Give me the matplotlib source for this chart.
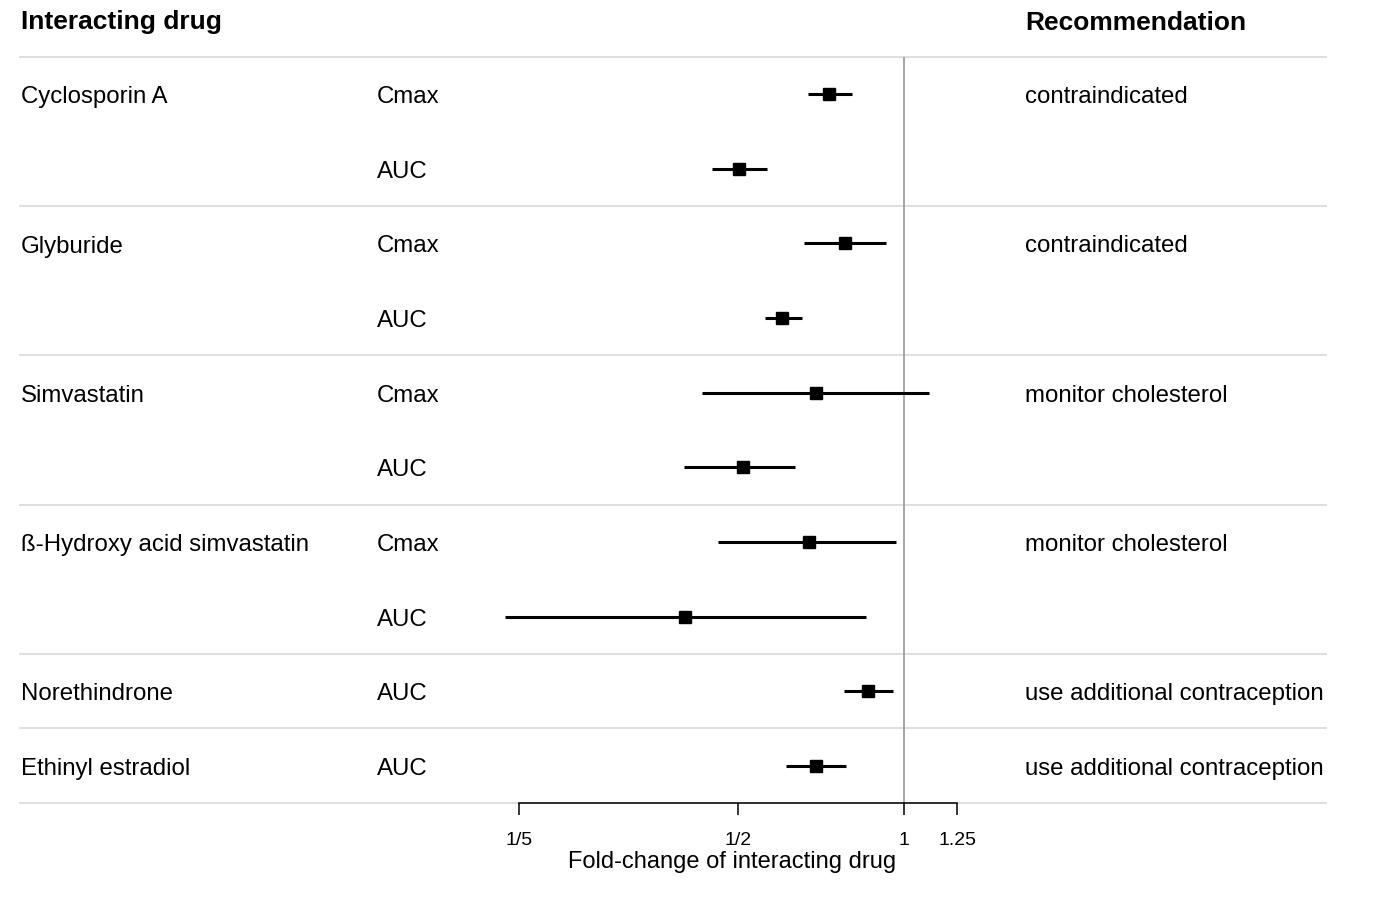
import numpy as np
import matplotlib
matplotlib.use("Agg")
from matplotlib import pyplot as plt
from matplotlib import transforms

plt.rcParams['font.family'] = ['Liberation Sans', 'DejaVu Sans']

# one entry per drug
drugs = ["Cyclosporin A", "Glyburide", "Simvastatin",
         "ß-Hydroxy acid simvastatin", "Norethindrone", "Ethinyl estradiol"]
advice = ["contraindicated", "contraindicated", "monitor cholesterol",
          "monitor cholesterol", "use additional contraception",
          "use additional contraception"]

# one entry per row (parameter)
row_drug = [0, 0, 1, 1, 2, 2, 3, 3, 4, 5]
params = ["Cmax", "AUC", "Cmax", "AUC", "Cmax", "AUC", "Cmax", "AUC", "AUC", "AUC"]
ratio = [0.731, 0.501, 0.781, 0.600, 0.691, 0.510, 0.671, 0.400, 0.861, 0.691]
ci_lo = [0.670, 0.449, 0.659, 0.559, 0.429, 0.399, 0.459, 0.189, 0.779, 0.610]
ci_hi = [0.805, 0.563, 0.926, 0.654, 1.109, 0.633, 0.966, 0.854, 0.956, 0.785]

ticks = [0.2, 0.5, 1, 1.25]
tick_labels = ["1/5", "1/2", "1", "1.25"]

W, H = 1386, 898
fig = plt.figure(figsize=(W / 100, H / 100), dpi=100)
ax = fig.add_axes([480 / W, (H - 803) / H, 510 / W, (803 - 57) / H])
ax.set_xscale('log')
ax.set_xlim(10 ** ((480 - 904) / 550.8), 10 ** ((990 - 904) / 550.8))
n = len(params)
ax.set_ylim(n - 0.5, -0.5)
row_px = (803 - 57) / n

y = np.arange(n)
lo = np.array(ratio) - np.array(ci_lo)
hi = np.array(ci_hi) - np.array(ratio)
ax.errorbar(ratio, y, xerr=[lo, hi], fmt='s', color='black', ms=9,
            elinewidth=2.2, capsize=0, clip_on=False, zorder=5)
ax.axvline(1, color='#a0a0a0', lw=1.3, zorder=1)

for s in ['top', 'right', 'left']:
    ax.spines[s].set_visible(False)
ax.spines['bottom'].set_bounds(0.2, 1.25)
ax.spines['bottom'].set_linewidth(1.1)
ax.spines['bottom'].set_zorder(3)
ax.set_yticks([])
ax.set_xticks(ticks)
ax.set_xticklabels(tick_labels)
ax.xaxis.set_minor_locator(matplotlib.ticker.NullLocator())
ax.tick_params(axis='x', length=8.5, width=1.1, labelsize=14, pad=12.5)
fig.text(732 / W, 1 - 868 / H, "Fold-change of interacting drug", fontsize=17,
         ha='center', va='baseline')

tr = transforms.blended_transform_factory(fig.transFigure, ax.transData)

# separators between drugs
seps = [-0.5]
for i in range(1, n):
    if row_drug[i] != row_drug[i - 1]:
        seps.append(i - 0.5)
seps.append(n - 0.5)
for s in seps:
    ax.plot([20 / W, 1326 / W], [s, s], transform=tr, color='#d9d9d9',
            lw=1.2, clip_on=False, zorder=0)

fs = 17.3
base = 9 / row_px   # baseline sits a little below the row centre
for i in range(n):
    if i == 0 or row_drug[i] != row_drug[i - 1]:
        d = row_drug[i]
        ax.text(21 / W, i + base, drugs[d], transform=tr, va='baseline', ha='left', fontsize=fs)
        ax.text(1025 / W, i + base, advice[d], transform=tr, va='baseline', ha='left', fontsize=fs)
    ax.text(377 / W, i + base, params[i], transform=tr, va='baseline', ha='left', fontsize=fs)

fig.text(21 / W, 1 - 29.5 / H, "Interacting drug", fontsize=19, fontweight='bold',
         va='baseline', ha='left')
fig.text(1025 / W, 1 - 29.5 / H, "Recommendation", fontsize=19, fontweight='bold',
         va='baseline', ha='left')

fig.savefig("out.png", dpi=100)
